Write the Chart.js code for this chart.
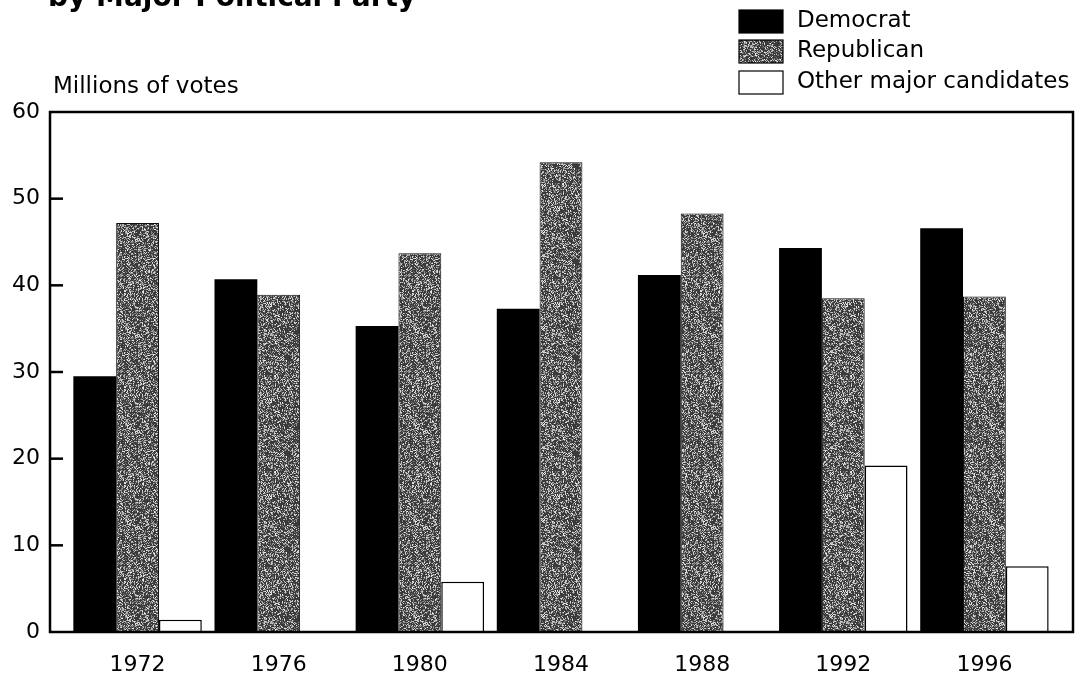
<!DOCTYPE html>
<html>
<head>
<meta charset="utf-8">
<script src="https://cdn.jsdelivr.net/npm/chart.js@4"></script>
<style>
  html, body { margin: 0; padding: 0; background: #fff; }
  #wrap { width: 1080px; height: 677px; }
</style>
</head>
<body>
<div id="wrap"><canvas id="votes-chart" width="1080" height="677"></canvas></div>
<script>
// Chart data
const years = ['1972', '1976', '1980', '1984', '1988', '1992', '1996'];
const democrat = [29.5, 40.7, 35.3, 37.3, 41.2, 44.3, 46.6];
const republican = [47.2, 38.9, 43.7, 54.2, 48.3, 38.5, 38.7];
const otherCandidates = [1.4, 0, 5.8, 0, 0, 19.2, 7.6];
const yTicks = [0, 10, 20, 30, 40, 50, 60];

const FONT = '"DejaVu Sans", "Liberation Sans", Arial, sans-serif';

// Speckled gray fill for the Republican bars (fixed seed, style only)
function makeSpeckle() {
    const c = document.createElement('canvas');
    c.width = 96;
    c.height = 96;
    const g = c.getContext('2d');
    g.fillStyle = '#3a3a3a';
    g.fillRect(0, 0, 96, 96);
    let seed = 12345;
    const next = () => {
        seed = (seed + 0x6D2B79F5) | 0;
        let t = Math.imul(seed ^ (seed >>> 15), 1 | seed);
        t = (t + Math.imul(t ^ (t >>> 7), 61 | t)) ^ t;
        return ((t ^ (t >>> 14)) >>> 0) / 4294967296;
    };
    for (let y = 0; y < 96; y++) {
        for (let x = 0; x < 96; x++) {
            const r = next();
            if (r < 0.45) {
                const shade = Math.round(90 + next() * 150);
                g.fillStyle = `rgb(${shade},${shade},${shade})`;
                g.fillRect(x, y, 1, 1);
            }
        }
    }
    return g.createPattern(c, 'repeat');
}

// Frame, inward ticks, title, axis caption and legend
const decorPlugin = {
    id: 'decor',
    afterDraw(chart) {
        const ctx = chart.ctx;
        const area = chart.chartArea;
        const yScale = chart.scales.y;
        const left = area.left - 17;
        const right = area.right + 18;
        const top = yScale.getPixelForValue(60);
        const bottom = yScale.getPixelForValue(0);

        ctx.save();
        ctx.strokeStyle = '#000';
        ctx.lineWidth = 2.5;
        ctx.strokeRect(left, top, right - left, bottom - top);

        yTicks.forEach(v => {
            if (v === 0 || v === 60) return;
            const py = yScale.getPixelForValue(v);
            ctx.beginPath();
            ctx.moveTo(left, py);
            ctx.lineTo(left + 13, py);
            ctx.stroke();
        });

        // Title (cut off at the top edge)
        ctx.fillStyle = '#000';
        ctx.font = 'bold 28px ' + FONT;
        ctx.textBaseline = 'alphabetic';
        ctx.textAlign = 'left';
        ctx.fillText('by Major Political Party', 48, 6);

        // Axis caption
        ctx.font = '23px ' + FONT;
        ctx.textBaseline = 'middle';
        ctx.fillText('Millions of votes', 53, 87);

        // Legend
        const rows = [21, 51, 82];
        chart.data.datasets.forEach((ds, i) => {
            const cy = rows[i];
            ctx.fillStyle = ds.backgroundColor;
            ctx.fillRect(739, cy - 11, 44, 23);
            ctx.lineWidth = 1.2;
            ctx.strokeStyle = '#000';
            ctx.strokeRect(739, cy - 11, 44, 23);
            ctx.fillStyle = '#000';
            ctx.font = '23px ' + FONT;
            ctx.fillText(ds.label, 797, cy);
        });
        ctx.restore();
    }
};

const ctx = document.getElementById('votes-chart').getContext('2d');
new Chart(ctx, {
    type: 'bar',
    data: {
        labels: years,
        datasets: [{
            label: 'Democrat',
            data: democrat,
            backgroundColor: '#000',
            borderWidth: 0
        }, {
            label: 'Republican',
            data: republican,
            backgroundColor: makeSpeckle(),
            borderColor: '#111',
            borderWidth: 1
        }, {
            label: 'Other major candidates',
            data: otherCandidates,
            backgroundColor: '#fff',
            borderColor: '#000',
            borderWidth: 1.5
        }]
    },
    options: {
        responsive: false,
        animation: false,
        layout: {
            padding: { top: 112, left: 13, right: 25, bottom: 0 }
        },
        categoryPercentage: 0.91,
        barPercentage: 1.0,
        plugins: {
            legend: { display: false },
            tooltip: { enabled: false }
        },
        scales: {
            x: {
                grid: { display: false, drawTicks: false },
                border: { display: false },
                afterFit: scale => { scale.height = 45; },
                ticks: {
                    color: '#000',
                    padding: 20,
                    maxRotation: 0,
                    font: { family: FONT, size: 22 }
                }
            },
            y: {
                min: 0,
                max: 60,
                grid: { display: false, drawTicks: false },
                border: { display: false },
                afterFit: scale => { scale.width = 54; },
                afterBuildTicks: axis => {
                    axis.ticks = yTicks.map(v => ({ value: v }));
                },
                ticks: {
                    color: '#000',
                    padding: 27,
                    font: { family: FONT, size: 22 }
                }
            }
        }
    },
    plugins: [decorPlugin]
});
</script>
</body>
</html>
